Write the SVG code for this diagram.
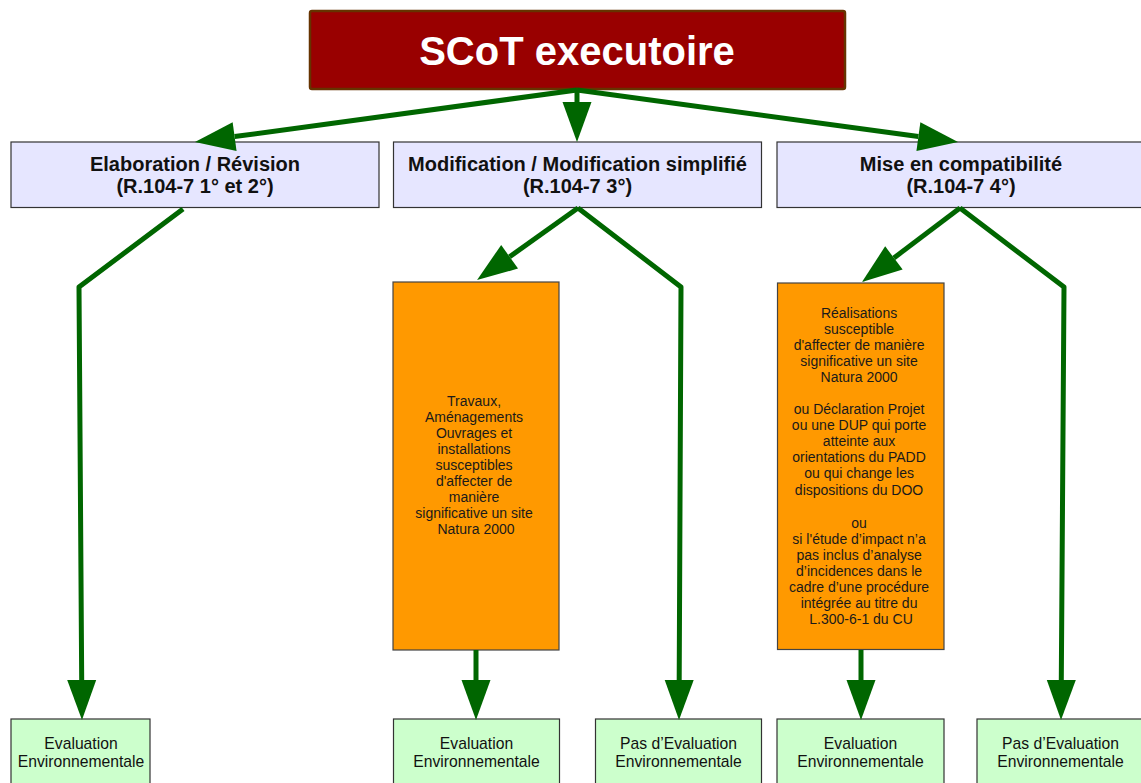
<svg xmlns="http://www.w3.org/2000/svg" width="1141" height="783" viewBox="0 0 1141 783">
  <style>
    text { font-family: "Liberation Sans", Arial, sans-serif; text-anchor: middle; }
    .title { fill: #990000; stroke: #663300; stroke-width: 2.5; }
    .title-text { font-size: 40px; font-weight: bold; fill: #ffffff; }
    .head { fill: #e6e6ff; stroke: #333333; stroke-width: 1.2; }
    .head-text { font-size: 20px; font-weight: bold; fill: #111111; }
    .cond { fill: #ff9900; stroke: #444444; stroke-width: 1.2; }
    .cond-text { font-size: 14px; fill: #1a1a1a; }
    .res { fill: #ccffcc; stroke: #333333; stroke-width: 1.2; }
    .res-text { font-size: 15.7px; fill: #111111; }
    .link { fill: none; stroke: #006600; stroke-width: 5; stroke-linejoin: round; marker-end: url(#head); }
  </style>
  <defs>
    <marker id="head" markerUnits="userSpaceOnUse" markerWidth="42" markerHeight="30" refX="0" refY="14.5" orient="auto" overflow="visible">
      <path d="M0,0 L40,14.5 L0,29 Z" fill="#006600"/>
    </marker>
  </defs>

  <rect width="1141" height="783" fill="#ffffff"/>

  <!-- top node -->
  <g id="scot">
    <rect class="title" x="310" y="11" width="535" height="78" rx="2"/>
    <text class="title-text" x="577" y="65">SCoT executoire</text>
  </g>

  <!-- procedure headers -->
  <g id="elaboration">
    <rect class="head" x="11" y="142" width="368" height="65.5"/>
    <text class="head-text" x="195" y="171">Elaboration / Révision</text>
    <text class="head-text" x="195" y="193">(R.104-7 1° et 2°)</text>
  </g>
  <g id="modification">
    <rect class="head" x="393.5" y="142" width="368" height="65.5"/>
    <text class="head-text" x="577.5" y="171">Modification / Modification simplifié</text>
    <text class="head-text" x="577.5" y="193">(R.104-7 3°)</text>
  </g>
  <g id="compatibilite">
    <rect class="head" x="777" y="142" width="368" height="65.5"/>
    <text class="head-text" x="961" y="171">Mise en compatibilité</text>
    <text class="head-text" x="961" y="193">(R.104-7 4°)</text>
  </g>

  <!-- conditions -->
  <g id="cond-modification">
    <rect class="cond" x="393" y="282" width="166" height="368"/>
    <text class="cond-text" x="476">
      <tspan x="476" y="406">Travaux,</tspan>
      <tspan x="476" y="422">Aménagements</tspan>
      <tspan x="476" y="438">Ouvrages et</tspan>
      <tspan x="476" y="454">installations</tspan>
      <tspan x="476" y="470">susceptibles</tspan>
      <tspan x="476" y="486">d'affecter de</tspan>
      <tspan x="476" y="502">manière</tspan>
      <tspan x="476" y="518">significative un site</tspan>
      <tspan x="476" y="534">Natura 2000</tspan>
    </text>
  </g>
  <g id="cond-compatibilite">
    <rect class="cond" x="777.5" y="283" width="166.5" height="366.5"/>
    <text class="cond-text" x="861">
      <tspan x="861" y="317.5">Réalisations</tspan>
      <tspan x="861" y="333.5">susceptible</tspan>
      <tspan x="861" y="349.5">d'affecter de manière</tspan>
      <tspan x="861" y="365.5">significative un site</tspan>
      <tspan x="861" y="381.5">Natura 2000</tspan>
      <tspan x="861" y="414">ou Déclaration Projet</tspan>
      <tspan x="861" y="430">ou une DUP qui porte</tspan>
      <tspan x="861" y="446">atteinte aux</tspan>
      <tspan x="861" y="462">orientations du PADD</tspan>
      <tspan x="861" y="478">ou qui change les</tspan>
      <tspan x="861" y="494.5">dispositions du DOO</tspan>
      <tspan x="861" y="527.5">ou</tspan>
      <tspan x="861" y="543.5">si l'étude d’impact n’a</tspan>
      <tspan x="861" y="559.5">pas inclus d’analyse</tspan>
      <tspan x="861" y="575.5">d’incidences dans le</tspan>
      <tspan x="861" y="591.5">cadre d’une procédure</tspan>
      <tspan x="861" y="607.5">intégrée au titre du</tspan>
      <tspan x="861" y="623.5">L.300-6-1 du CU</tspan>
    </text>
  </g>

  <!-- outcomes -->
  <g id="res-elaboration">
    <rect class="res" x="11" y="719" width="139" height="80"/>
    <text class="res-text" x="81" y="749">Evaluation</text>
    <text class="res-text" x="81" y="767">Environnementale</text>
  </g>
  <g id="res-modif-eval">
    <rect class="res" x="393.5" y="719" width="166" height="80"/>
    <text class="res-text" x="476.5" y="749">Evaluation</text>
    <text class="res-text" x="476.5" y="767">Environnementale</text>
  </g>
  <g id="res-modif-none">
    <rect class="res" x="595.5" y="719" width="166" height="80"/>
    <text class="res-text" x="678.5" y="749">Pas d’Evaluation</text>
    <text class="res-text" x="678.5" y="767">Environnementale</text>
  </g>
  <g id="res-compat-eval">
    <rect class="res" x="777" y="719" width="167" height="80"/>
    <text class="res-text" x="860.5" y="749">Evaluation</text>
    <text class="res-text" x="860.5" y="767">Environnementale</text>
  </g>
  <g id="res-compat-none">
    <rect class="res" x="977" y="719" width="167" height="80"/>
    <text class="res-text" x="1060.5" y="749">Pas d’Evaluation</text>
    <text class="res-text" x="1060.5" y="767">Environnementale</text>
  </g>

  <!-- connectors: each path ends at the base of its arrowhead -->
  <g id="connectors">
    <path class="link" d="M577,90 L234.6,136.6"/>
    <path class="link" d="M577,90 L577,102"/>
    <path class="link" d="M577,90 L918.4,136.6"/>
    <path class="link" d="M183,209 L79,287 L81.7,680"/>
    <path class="link" d="M578,208 L509.6,256.8"/>
    <path class="link" d="M578,208 L681,287 L679.2,680"/>
    <path class="link" d="M476,650 L476,680"/>
    <path class="link" d="M960,208 L893.9,257.9"/>
    <path class="link" d="M960,208 L1064,287 L1061.3,680"/>
    <path class="link" d="M861,650 L861,680"/>
  </g>
</svg>
